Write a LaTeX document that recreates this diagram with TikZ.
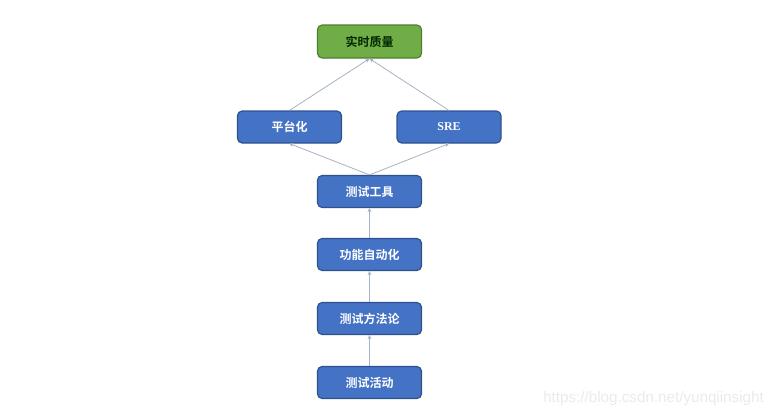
\documentclass[tikz,border=0pt]{standalone}
\usepackage{fontspec}
\setmainfont{Liberation Sans}
\newfontfamily\cjk{Noto Sans CJK SC}[BoldFont={Noto Sans CJK SC Bold}]
\usetikzlibrary{arrows.meta}
\definecolor{boxblue}{HTML}{4472C4}
\definecolor{boxblueline}{HTML}{2F528F}
\definecolor{boxgreen}{HTML}{70AD47}
\definecolor{boxgreenline}{HTML}{507E32}
\definecolor{arrowgray}{HTML}{A6B3C6}
\tikzset{
  bluebox/.style={draw=boxblueline, line width=0.9pt, fill=boxblue, rounded corners=3.5pt,
    minimum width=104*0.75pt, minimum height=32*0.75pt, inner sep=0pt,
    text=white, font=\cjk\bfseries\fontsize{9}{10}\selectfont},
  greenbox/.style={draw=boxgreenline, line width=0.9pt, fill=boxgreen, rounded corners=3.5pt,
    minimum width=104*0.75pt, minimum height=33*0.75pt, inner sep=0pt,
    text=black!85!green, font=\cjk\bfseries\fontsize{9}{10}\selectfont},
  conn/.style={draw=arrowgray, line width=0.6pt, -{Stealth[length=3pt,width=3pt]}},
}
\begin{document}
\begin{tikzpicture}[x=0.75pt,y=-0.75pt]
\useasboundingbox[fill=white] (0,0) rectangle (784,419);
\node[greenbox] (q) at (369.5,41.5) {实时质量};
\node[bluebox] (p) at (289.5,127) {平台化};
\node[bluebox] (s) at (449,127) {\fontspec{Liberation Serif}\bfseries SRE};
\node[bluebox] (t) at (369.5,191.5) {测试工具};
\node[bluebox] (f) at (369.5,254.5) {功能自动化};
\node[bluebox] (m) at (369.5,318.5) {测试方法论};
\node[bluebox] (a) at (369.5,382.5) {测试活动};
\draw[conn] (t.north) -- (p.south);
\draw[conn] (t.north) -- (s.south);
\draw[conn] (p.north) -- (q.south);
\draw[conn] (s.north) -- (q.south);
\draw[conn] (f.north) -- (t.south);
\draw[conn] (m.north) -- (f.south);
\draw[conn] (a.north) -- (m.south);
\node[anchor=west, text=black!8, font=\fontsize{11.4}{13}\selectfont, inner sep=0pt] (w) at (543,399) {https://blog.csdn.net/yunqiinsight};
\end{tikzpicture}
\end{document}
